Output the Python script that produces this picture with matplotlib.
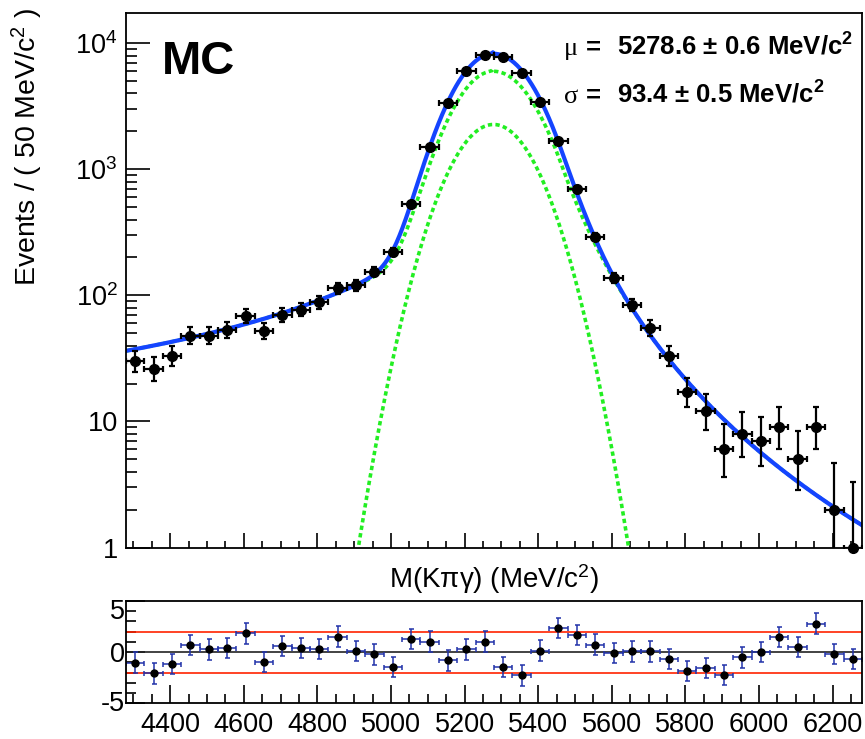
import numpy as np
import matplotlib.pyplot as plt
import matplotlib.transforms as mtransforms
from matplotlib.ticker import MultipleLocator, LogLocator, FixedLocator, FuncFormatter, NullFormatter

plt.rcParams['font.family'] = 'Liberation Sans'
plt.rcParams['mathtext.fontset'] = 'custom'
plt.rcParams['mathtext.rm'] = 'Liberation Sans'
plt.rcParams['mathtext.it'] = 'Liberation Sans:italic'
plt.rcParams['mathtext.bf'] = 'Liberation Sans:bold'
plt.rcParams['axes.unicode_minus'] = False

# histogram binning in M(K pi gamma)
m_lo, m_hi, bin_w = 4280, 6280, 50

# events per bin
counts = [30, 26, 33, 48, 48, 53, 69, 52, 70, 77, 88, 114, 120, 154,
          220, 531, 1493, 3365, 6000, 8035, 7800, 5820, 3410, 1675, 698, 292,
          138, 84, 55, 33, 17, 12, 6, 8, 7, 9, 5, 9, 2, 1]

# pulls (data - fit) / error per bin
pulls = [-1.02, -2.08, -1.18, 0.71, 0.26, 0.42, 1.83, -0.96, 0.58, 0.38,
         0.32, 1.51, 0.10, -0.22, -1.47, 1.28, 1.03, -0.80, 0.26, 1.03,
         -1.47, -2.27, 0.16, 2.35, 1.70, 0.74, -0.06, 0.07, 0.07, -0.67,
         -1.86, -1.54, -2.21, -0.51, 0.00, 1.48, 0.52, 2.79, -0.19, -0.67]

# fit result
mu, mu_err = 5278.6, 0.6
sigma, sigma_err = 93.4, 0.5
h_gaus = 2270.0     # height of the narrow gaussian (events / bin)
h_tail = 6000.0     # height of the tailed component (events / bin)

# shape of the tailed component
s_lo, s_hi = 93.0, 100.0
a_hi, n_hi = 1.87, 4.35
k_lo, p_lo, c_lo, w_lo = 640.0, 1.247, 250.0, 40.0

pull_band = 2

edges = np.arange(m_lo, m_hi + 1, bin_w)
centers = 0.5 * (edges[:-1] + edges[1:])


def gaus(x):
    return h_gaus * np.exp(-0.5 * ((x - mu) / sigma) ** 2)


def tailed(x):
    # gaussian core with a power-law tail on the high side
    t = np.where(x < mu, (x - mu) / s_lo, (x - mu) / s_hi)
    core = np.exp(-0.5 * t ** 2)
    b = n_hi / a_hi - a_hi
    hi = np.exp(-0.5 * a_hi ** 2) * (n_hi / a_hi) ** n_hi * np.maximum(b + t, 1e-3) ** (-n_hi)
    shape = np.where(t > a_hi, hi, core)
    # slow radiative tail on the low side
    d = np.clip(mu - x, 1.0, None)
    low = k_lo * (d / 100.0) ** (-p_lo) / (1.0 + np.exp((x - (mu - c_lo)) / w_lo))
    low = np.where(x < mu, low, 0.0)
    return h_tail * shape + low


# poisson errors (Gehrels approximation of the 68% interval)
n = np.array(counts, dtype=float)
err_lo = n - n * (1 - 1 / (9 * n) - 1 / (3 * np.sqrt(n))) ** 3
err_hi = np.sqrt(n + 0.75) + 1

fig = plt.figure(figsize=(8.65, 7.39), dpi=100)
W, H = 865.0, 739.0
ax1 = fig.add_axes([126 / W, 1 - 547.5 / H, 736 / W, 534.2 / H])
ax2 = fig.add_axes([126 / W, 1 - 703.3 / H, 736 / W, 102.3 / H])

green = '#22ee22'
blue = '#1444ff'
xs = np.linspace(m_lo, m_hi, 1000)
ax1.plot(xs, gaus(xs), color=green, lw=2.6, ls=(0, (1.2, 0.9)))
ax1.plot(xs, tailed(xs), color=green, lw=2.6, ls=(0, (1.2, 0.9)))
ax1.plot(xs, gaus(xs) + tailed(xs), color=blue, lw=3.0)
eb = ax1.errorbar(centers, counts, xerr=bin_w / 2, yerr=[err_lo, err_hi], fmt='o',
                  color='black', ms=7, elinewidth=1.6, capsize=2, capthick=1.6)
eb[0].set_clip_on(False)

ax1.set_yscale('log')
ax1.set_xlim(m_lo, m_hi)
ax1.set_ylim(1, 17300)


def dec_fmt(v, pos):
    if v < 5:
        return '1'
    if v < 50:
        return '10'
    return r'$10^{%d}$' % round(np.log10(v))


ax1.yaxis.set_major_locator(LogLocator(base=10, numticks=10))
ax1.yaxis.set_minor_locator(LogLocator(base=10, subs=np.arange(2, 10), numticks=10))
ax1.yaxis.set_major_formatter(FuncFormatter(dec_fmt))
ax1.yaxis.set_minor_formatter(NullFormatter())
ax1.xaxis.set_major_locator(MultipleLocator(200))
ax1.xaxis.set_minor_locator(MultipleLocator(50))
ax1.tick_params(axis='x', which='major', direction='in', length=11, width=1.2, labelbottom=False)
ax1.tick_params(axis='x', which='minor', direction='in', length=5, width=1.2)
ax1.tick_params(axis='y', which='major', direction='in', length=17, width=1.2, labelsize=19.5, pad=6)
ax1.tick_params(axis='y', which='minor', direction='in', length=8, width=1.2)

ax1.set_ylabel(r'Events / ( 50 MeV/c$^{2}$ )', fontsize=20.5, loc='top')
ax1.yaxis.set_label_coords(-0.11, 1.01)
ax1.set_xlabel(r'M(Kπγ) (MeV/c$^{2}$)', fontsize=20)
ax1.xaxis.set_label_coords(0.5, -0.027)

fig.text(162 / W, 1 - 74 / H, 'MC', fontsize=34, fontweight='bold', va='baseline')
for sym, val, err, yb in [('μ', mu, mu_err, 55), ('σ', sigma, sigma_err, 103)]:
    fig.text(564 / W, 1 - yb / H, sym, fontsize=19, family='Liberation Serif', va='baseline')
    fig.text(586 / W, 1 - yb / H, '=', fontsize=18.5, fontweight='bold', va='baseline')
    fig.text(617 / W, 1 - yb / H, r'%.1f ± %.1f MeV/c$^{\mathbf{2}}$' % (val, err),
             fontsize=18.5, fontweight='bold', va='baseline')

# pull panel
ax2.axhline(0, color='#222222', lw=1.2)
ax2.axhline(pull_band, color='#ff2200', lw=1.2)
ax2.axhline(-pull_band, color='#ff2200', lw=1.2)
ax2.errorbar(centers, pulls, xerr=bin_w / 2, yerr=1, fmt='o', ms=5, mfc='black', mec='black',
             ecolor='#2233aa', elinewidth=1.1, capsize=1.8, capthick=1.1)
ax2.set_xlim(m_lo, m_hi)
ax2.set_ylim(-5, 5)
ax2.xaxis.set_major_locator(MultipleLocator(200))
ax2.xaxis.set_minor_locator(MultipleLocator(50))
ax2.yaxis.set_major_locator(FixedLocator([-5, 0, 5]))
ax2.yaxis.set_minor_locator(MultipleLocator(1))
ax2.tick_params(axis='x', which='major', direction='in', length=13, width=1.2, labelsize=19.5, pad=6)
ax2.tick_params(axis='x', which='minor', direction='in', length=6.5, width=1.2)
ax2.tick_params(axis='y', which='major', direction='in', length=14, width=1.2, labelsize=19.5, pad=1)
ax2.tick_params(axis='y', which='minor', direction='in', length=7, width=1.2)

for tick, v in zip(ax2.yaxis.get_major_ticks(), [-5, 0, 5]):
    shift = {5: -6, -5: 2}.get(v, 0)
    if shift:
        tick.label1.set_transform(tick.label1.get_transform() +
                                  mtransforms.ScaledTranslation(0, shift / 72, fig.dpi_scale_trans))

for ax in (ax1, ax2):
    for sp in ax.spines.values():
        sp.set_linewidth(1.3)

fig.savefig('out.png', dpi=100)
